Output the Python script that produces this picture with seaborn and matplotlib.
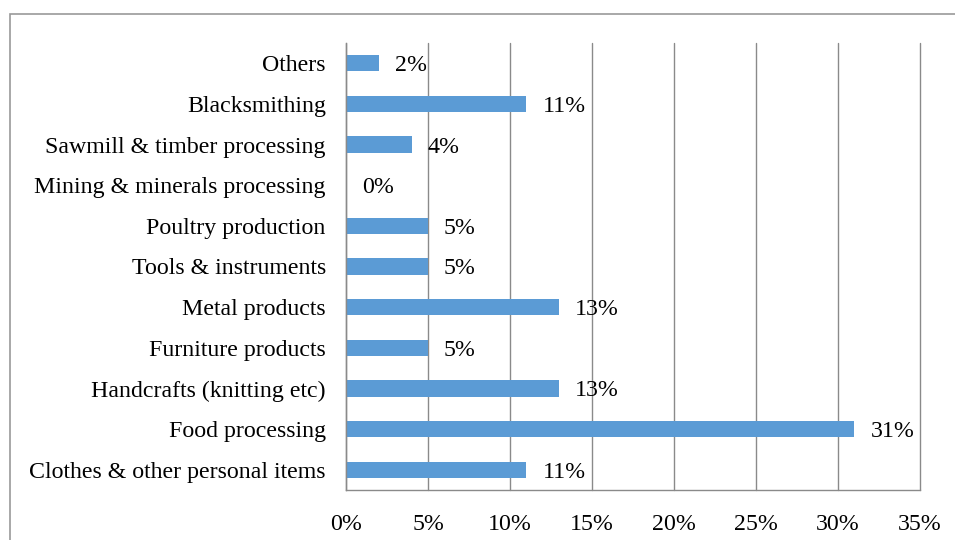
import numpy as np
import pandas as pd
import matplotlib
matplotlib.use("Agg")
import matplotlib.pyplot as plt
import seaborn as sns
from matplotlib.patches import Rectangle

categories = ["Others", "Blacksmithing", "Sawmill & timber processing",
              "Mining & minerals processing", "Poultry production",
              "Tools & instruments", "Metal products", "Furniture products",
              "Handcrafts (knitting etc)", "Food processing",
              "Clothes & other personal items"]
shares = [2, 11, 4, 0, 5, 5, 13, 5, 13, 31, 11]
x_ticks = [0, 5, 10, 15, 20, 25, 30, 35]
x_tick_labels = ["0%", "5%", "10%", "15%", "20%", "25%", "30%", "35%"]

df = pd.DataFrame({"sector": categories, "share": shares})

sns.set_style("white")
plt.rcParams["font.family"] = ["Liberation Serif", "DejaVu Serif"]
plt.rcParams["font.size"] = 17.2
plt.rcParams["text.color"] = "black"
plt.rcParams["xtick.labelcolor"] = "black"
plt.rcParams["ytick.labelcolor"] = "black"

fig = plt.figure(figsize=(9.55, 5.4), dpi=100)
ax = fig.add_axes([346 / 955, 1 - 490 / 540, (920 - 346) / 955, (490 - 43) / 540])

# grey outline around the chart area (right/bottom edges cut off in the reference)
fig.patches.append(Rectangle((10 / 955, -0.05), 1.1, 1 - 14 / 540 + 0.05,
                             transform=fig.transFigure, fill=False,
                             edgecolor="#999999", linewidth=1.2))

sns.barplot(data=df, x="share", y="sector", orient="h", color="#5B9BD5",
            saturation=1, width=0.4, linewidth=0, ax=ax)

ax.set_xlim(0, 35)
ax.set_ylim(len(categories) - 0.5, -0.5)
ax.set_xticks(x_ticks)
ax.set_xticklabels(x_tick_labels)
ax.set_xlabel("")
ax.set_ylabel("")
ax.xaxis.grid(True, color="#8a8a8a", linewidth=1)
for gl in ax.get_xgridlines():
    gl.set_clip_on(False)
ax.set_axisbelow(True)

for side in ["top", "right"]:
    ax.spines[side].set_visible(False)
for side in ["left", "bottom"]:
    ax.spines[side].set_color("#8a8a8a")
    ax.spines[side].set_linewidth(1)

# category boundaries get the tick marks, labels sit in between
ax.set_yticks(np.arange(-0.5, len(categories) + 0.5, 1), minor=True)
ax.tick_params(axis="y", which="major", length=0, pad=14.5)
ax.tick_params(axis="y", which="minor", length=5, color="#8a8a8a", width=1, direction="out")
ax.tick_params(axis="x", which="major", length=5, color="#8a8a8a", width=1, direction="out", pad=12)

for i, v in enumerate(shares):
    ax.annotate(f"{v}%", xy=(v, i), xytext=(11.5, 0), textcoords="offset points",
                ha="left", va="center_baseline", fontsize=17.2, color="black")

fig.savefig("out.png", dpi=100)
